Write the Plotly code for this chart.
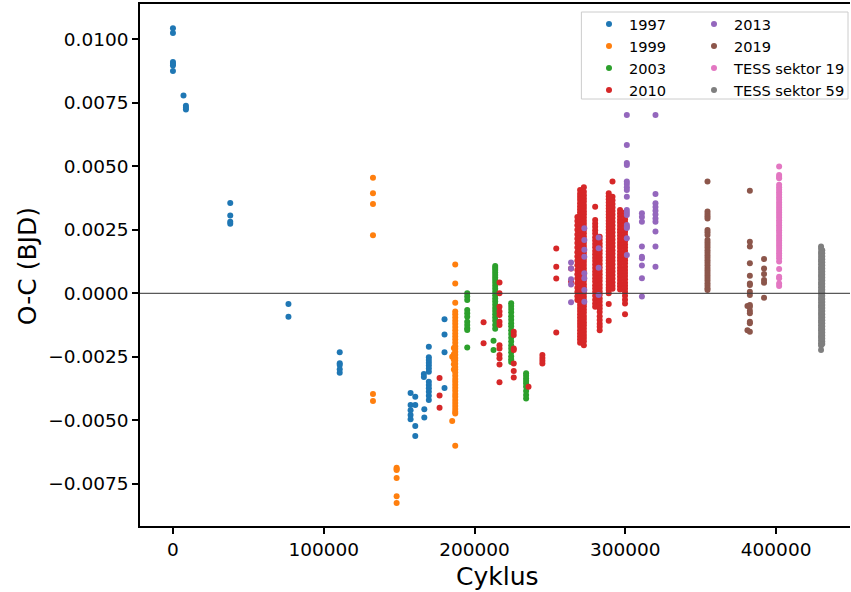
import plotly.graph_objects as go

# ---------------- data (cycle of each night, O-C values of that night) ----------------
cyc_1997 = [0, 7000, 8600, 38000, 76600, 110600, 157600, 160700, 166400, 166700, 169700, 180100]
oc_1997 = [
    [0.01044, 0.01025, 0.00911, 0.00904, 0.00897, 0.00875],
    [0.00779],
    [0.00738, 0.00731, 0.00724],
    [0.00356, 0.00306, 0.00282, 0.00274],
    [-0.00042, -0.00092],
    [-0.00232, -0.00275, -0.00282, -0.00299, -0.00313],
    [-0.00392, -0.00440, -0.00460, -0.00479, -0.00496],
    [-0.00407, -0.00440, -0.00522, -0.00562],
    [-0.00318, -0.00329],
    [-0.00456, -0.00489],
    [-0.00210, -0.00252, -0.00263, -0.00273, -0.00284, -0.00296, -0.00309, -0.00348,
     -0.00361, -0.00374, -0.00388, -0.00403, -0.00420],
    [-0.00102, -0.00162, -0.00232, -0.00373],
]

cyc_1999 = [132650, 148340, 185200, 186300, 187200]
oc_1999 = [
    [0.00455, 0.00394, 0.00352, 0.00229, -0.00396, -0.00424],
    [-0.00687, -0.00692, -0.00696, -0.00727, -0.00799, -0.00826],
    [-0.00250, -0.00503],
    [-0.00215, -0.00240, -0.00262, -0.00279, -0.00300],
    [0.00113, 0.00039, -0.00037, -0.00072, -0.00082, -0.00095, -0.00108, -0.00120, -0.00133,
     -0.00145, -0.00158, -0.00170, -0.00182, -0.00195, -0.00208, -0.00218, -0.00230, -0.00242,
     -0.00255, -0.00265, -0.00277, -0.00290, -0.00300, -0.00312, -0.00325, -0.00337, -0.00348,
     -0.00360, -0.00372, -0.00384, -0.00396, -0.00407, -0.00420, -0.00432, -0.00444, -0.00455,
     -0.00466, -0.00473, -0.00600],
]

cyc_2003 = [195150, 212600, 213700, 224300, 234200]
oc_2003 = [
    [0.00000, -0.00013, -0.00026, -0.00066, -0.00079, -0.00092, -0.00112, -0.00125, -0.00138,
     -0.00144, -0.00213],
    [-0.00187, -0.00223],
    [0.00108, 0.00100, 0.00092, 0.00082, 0.00072, 0.00062, 0.00052, 0.00042, 0.00030, 0.00018,
     0.00005, -0.00008, -0.00020, -0.00032, -0.00045, -0.00058, -0.00070, -0.00082, -0.00095,
     -0.00108, -0.00125, -0.00140],
    [-0.00039, -0.00050, -0.00062, -0.00075, -0.00090, -0.00104, -0.00118, -0.00130, -0.00145,
     -0.00160, -0.00175, -0.00190, -0.00205, -0.00218, -0.00232, -0.00248, -0.00260, -0.00270],
    [-0.00315, -0.00325, -0.00335, -0.00345, -0.00355, -0.00368, -0.00385, -0.00400, -0.00414],
]

cyc_2010 = [176800, 206000, 216550, 226000, 235800, 245000, 254200, 264000, 268200, 270000,
            272500, 280000, 283000, 289000, 291500, 296500, 299800]
oc_2010 = [
    [-0.00333, -0.00402, -0.00451],
    [-0.00114, -0.00197],
    [0.00043, 0.00000, -0.00053, -0.00072, -0.00085, -0.00112, -0.00125, -0.00204, -0.00217,
     -0.00243, -0.00256, -0.00280, -0.00350],
    [-0.00151, -0.00164, -0.00217, -0.00223, -0.00276, -0.00306, -0.00331],
    [-0.00368],
    [-0.00243, -0.00255, -0.00266, -0.00276],
    [0.00176, 0.00105, 0.00058, -0.00154],
    [0.00098, 0.00046],
    [0.00300, 0.00285, 0.00268, 0.00250, 0.00232, 0.00215, 0.00198, 0.00180, 0.00162, 0.00145,
     0.00128, 0.00110, 0.00092, 0.00075, 0.00058, 0.00040, 0.00022, 0.00005, -0.00012, -0.00026],
    [0.00407, 0.00392, 0.00380, 0.00368, 0.00355, 0.00342, 0.00330, 0.00318, 0.00305, 0.00292,
     0.00280, 0.00268, 0.00255, 0.00242, 0.00230, 0.00218, 0.00205, 0.00192, 0.00180, 0.00168,
     0.00155, 0.00142, 0.00130, 0.00118, 0.00105, 0.00092, 0.00080, 0.00068, 0.00055, 0.00042,
     0.00030, 0.00018, 0.00005, -0.00008, -0.00020, -0.00032, -0.00045, -0.00058, -0.00070,
     -0.00082, -0.00095, -0.00108, -0.00120, -0.00132, -0.00145, -0.00158, -0.00170, -0.00182,
     -0.00195],
    [0.00418, 0.00400, 0.00386, 0.00373, 0.00361, 0.00348, 0.00336, 0.00323, 0.00311, 0.00298,
     0.00286, 0.00274, 0.00261, 0.00249, 0.00236, 0.00224, 0.00211, 0.00199, 0.00186, 0.00174,
     0.00161, 0.00149, 0.00136, 0.00124, 0.00111, 0.00099, 0.00086, 0.00074, 0.00061, 0.00049,
     0.00036, 0.00024, 0.00011, -0.00001, -0.00014, -0.00026, -0.00039, -0.00051, -0.00064,
     -0.00076, -0.00089, -0.00101, -0.00114, -0.00126, -0.00139, -0.00151, -0.00164, -0.00176,
     -0.00189, -0.00204],
    [0.00341, 0.00289, 0.00275, 0.00262, 0.00248, 0.00235, 0.00221, 0.00208, 0.00194, 0.00181,
     0.00167, 0.00154, 0.00140, 0.00127, 0.00113, 0.00100, 0.00086, 0.00073, 0.00059, 0.00046,
     0.00032, 0.00019, 0.00005, -0.00010, -0.00025, -0.00040, -0.00053],
    [0.00223, 0.00210, 0.00196, 0.00183, 0.00169, 0.00156, 0.00142, 0.00129, 0.00115, 0.00102,
     0.00088, 0.00075, 0.00061, 0.00048, 0.00034, 0.00021, 0.00007, -0.00006, -0.00020, -0.00033,
     -0.00047, -0.00060, -0.00074, -0.00090, -0.00105, -0.00120, -0.00132, -0.00145],
    [0.00394, 0.00382, 0.00370, 0.00358, 0.00346, 0.00334, 0.00322, 0.00310, 0.00298, 0.00286,
     0.00274, 0.00262, 0.00250, 0.00238, 0.00226, 0.00214, 0.00202, 0.00190, 0.00178, 0.00166,
     0.00154, 0.00142, 0.00130, 0.00118, 0.00106, 0.00094, 0.00082, 0.00070, 0.00058, 0.00046,
     0.00034, 0.00022, 0.00013, 0.00000, -0.00042, -0.00108],
    [0.00440, 0.00380, 0.00366, 0.00352, 0.00338, 0.00324, 0.00310, 0.00296, 0.00282, 0.00268,
     0.00254, 0.00240, 0.00226, 0.00212, 0.00198, 0.00184, 0.00170, 0.00156, 0.00142, 0.00128,
     0.00114, 0.00100, 0.00086, 0.00072, 0.00058, 0.00044, 0.00030, 0.00018],
    [0.00328, 0.00315, 0.00302, 0.00290, 0.00278, 0.00265, 0.00252, 0.00240, 0.00228, 0.00215,
     0.00202, 0.00190, 0.00178, 0.00165, 0.00152, 0.00140, 0.00128, 0.00115, 0.00102, 0.00090,
     0.00078, 0.00065, 0.00052, 0.00040, 0.00028, 0.00015],
    [0.00318, 0.00305, 0.00292, 0.00280, 0.00268, 0.00255, 0.00242, 0.00230, 0.00218, 0.00205,
     0.00192, 0.00180, 0.00168, 0.00155, 0.00142, 0.00130, 0.00118, 0.00105, 0.00092, 0.00080,
     0.00068, 0.00055, 0.00042, 0.00030, 0.00018, 0.00005, -0.00010, -0.00025, -0.00040,
     -0.00082],
]

cyc_2013 = [264000, 272800, 282300, 301000, 311000, 320000]
oc_2013 = [
    [0.00121, 0.00098, 0.00055, 0.00035, -0.00035],
    [0.00256, 0.00210, 0.00171, 0.00144, 0.00079, 0.00059, 0.00013, -0.00033],
    [0.00220, 0.00177, 0.00101, -0.00007],
    [0.00702, 0.00584, 0.00513, 0.00505, 0.00440, 0.00430, 0.00418, 0.00407, 0.00380, 0.00328,
     0.00318, 0.00308, 0.00269, 0.00262, 0.00257, 0.00217, 0.00151],
    [0.00315, 0.00300, 0.00282, 0.00184, 0.00144, 0.00138, 0.00109, 0.00059, -0.00013],
    [0.00702, 0.00391, 0.00355, 0.00340, 0.00325, 0.00310, 0.00295, 0.00282, 0.00243, 0.00184,
     0.00105],
]

cyc_2019 = [354500, 381000, 382600, 392000]
oc_2019 = [
    [0.00440, 0.00322, 0.00312, 0.00303, 0.00295, 0.00249, 0.00240, 0.00230, 0.00210, 0.00200,
     0.00190, 0.00180, 0.00170, 0.00160, 0.00150, 0.00140, 0.00130, 0.00120, 0.00110, 0.00100,
     0.00090, 0.00080, 0.00070, 0.00060, 0.00050, 0.00040, 0.00030, 0.00020, 0.00013],
    [-0.00050, -0.00145],
    [0.00404, 0.00203, 0.00184, 0.00118, 0.00069, 0.00039, 0.00033, 0.00006, -0.00007, -0.00046,
     -0.00053, -0.00069, -0.00079, -0.00112, -0.00118, -0.00151],
    [0.00135, 0.00098, 0.00076, 0.00052, 0.00042, -0.00017],
]

cyc_tess19 = [402000]
oc_tess19 = [
    [0.00499, 0.00466, 0.00458, 0.00453, 0.00427, 0.00418, 0.00408, 0.00398, 0.00388, 0.00378,
     0.00368, 0.00358, 0.00348, 0.00338, 0.00328, 0.00318, 0.00308, 0.00298, 0.00288, 0.00278,
     0.00268, 0.00258, 0.00248, 0.00238, 0.00228, 0.00218, 0.00208, 0.00198, 0.00188, 0.00178,
     0.00168, 0.00158, 0.00148, 0.00138, 0.00125, 0.00096, 0.00065, 0.00059, 0.00039, 0.00029],
]

cyc_tess59 = [429800, 430600]
oc_tess59 = [
    [0.00184, 0.00175, 0.00163, 0.00155, 0.00144, 0.00133, 0.00125, 0.00114, 0.00103, 0.00095,
     0.00084, 0.00073, 0.00065, 0.00054, 0.00043, 0.00035, 0.00024, 0.00013, 0.00005, -0.00006,
     -0.00017, -0.00025, -0.00036, -0.00047, -0.00055, -0.00066, -0.00077, -0.00085, -0.00096,
     -0.00107, -0.00115, -0.00126, -0.00137, -0.00145, -0.00156, -0.00167, -0.00175, -0.00186,
     -0.00197, -0.00205, -0.00223],
    [0.00170, 0.00158, 0.00146, 0.00134, 0.00122, 0.00110, 0.00098, 0.00086, 0.00074, 0.00062,
     0.00050, 0.00038, 0.00026, 0.00014, 0.00002, -0.00010, -0.00022, -0.00034, -0.00046,
     -0.00058, -0.00070, -0.00082, -0.00094, -0.00106, -0.00118, -0.00130, -0.00142, -0.00154,
     -0.00166, -0.00178, -0.00190, -0.00200],
]

series_names = ["1997", "1999", "2003", "2010", "2013", "2019", "TESS sektor 19", "TESS sektor 59"]
series_colors = ["#1f77b4", "#ff7f0e", "#2ca02c", "#d62728", "#9467bd", "#8c564b", "#e377c2", "#7f7f7f"]

x_tickvals = [0, 100000, 200000, 300000, 400000]
x_ticktext = ["0", "100000", "200000", "300000", "400000"]
y_tickvals = [-0.0075, -0.005, -0.0025, 0.0, 0.0025, 0.005, 0.0075, 0.01]
y_ticktext = ["\u22120.0075", "\u22120.0050", "\u22120.0025", "0.0000", "0.0025", "0.0050", "0.0075", "0.0100"]

# ---------------- figure ----------------
all_cyc = [cyc_1997, cyc_1999, cyc_2003, cyc_2010, cyc_2013, cyc_2019, cyc_tess19, cyc_tess59]
all_oc = [oc_1997, oc_1999, oc_2003, oc_2010, oc_2013, oc_2019, oc_tess19, oc_tess59]

FONT = "DejaVu Sans"
W, H = 851, 592
L, R, T, B = 140, 0, 4, 66
pw, ph = W - L - R, H - T - B

def px_x(p):
    return (p - L) / pw

def px_y(p):
    return (H - B - p) / ph

fig = go.Figure()
for i, (name, col, cycs, ocs) in enumerate(zip(series_names, series_colors, all_cyc, all_oc)):
    xs, ys = [], []
    for c, vals in zip(cycs, ocs):
        xs.extend([c] * len(vals))
        ys.extend(vals)
    fig.add_trace(go.Scatter(
        x=xs, y=ys, mode="markers", name=name,
        marker=dict(color=col, size=6, line=dict(width=0)),
        legend="legend" if i < 4 else "legend2",
        legendgroup=name,
    ))

# legend frame (matplotlib style)
fig.add_shape(type="rect", xref="paper", yref="paper",
              x0=px_x(582), x1=px_x(849), y0=px_y(99), y1=px_y(12),
              line=dict(color="#cccccc", width=1), fillcolor="rgba(255,255,255,0.8)",
              layer="above")
# zero line
fig.add_shape(type="line", xref="paper", yref="y", x0=0, x1=1, y0=0, y1=0,
              line=dict(color="rgba(60,60,60,0.85)", width=1.2), layer="above")

legend_common = dict(
    font=dict(family=FONT, size=14.6, color="black"),
    bgcolor="rgba(0,0,0,0)", borderwidth=0,
    xanchor="left", yanchor="top", tracegroupgap=0,
    itemsizing="trace",
)

fig.update_layout(
    width=W, height=H,
    margin=dict(l=L, r=R, t=T, b=B),
    paper_bgcolor="white", plot_bgcolor="white",
    font=dict(family=FONT, color="black"),
    showlegend=True,
    legend=dict(x=px_x(589), y=px_y(8), **legend_common),
    legend2=dict(x=px_x(695), y=px_y(8), **legend_common),
    xaxis=dict(
        range=[-21850, 449000], tickmode="array", tickvals=x_tickvals, ticktext=x_ticktext,
        showgrid=False, zeroline=False, showline=True, linecolor="black", linewidth=1.5,
        mirror=True, ticks="outside", ticklen=6, tickwidth=1.5, tickcolor="black",
        tickfont=dict(family=FONT, size=18.5, color="black"),
    ),
    yaxis=dict(
        range=[-0.009161, 0.011390], tickmode="array", tickvals=y_tickvals, ticktext=y_ticktext,
        showgrid=False, zeroline=False, showline=True, linecolor="black", linewidth=1.5,
        mirror=False, ticks="outside", ticklen=6, tickwidth=1.5, tickcolor="black",
        tickfont=dict(family=FONT, size=18.5, color="black"),
    ),
    annotations=[
        dict(text="Cyklus", xref="paper", yref="paper", x=px_x(498), y=px_y(576),
             xanchor="center", yanchor="middle", showarrow=False,
             font=dict(family=FONT, size=25, color="black")),
        dict(text="O-C (BJD)", xref="paper", yref="paper", x=px_x(27), y=px_y(266),
             xanchor="center", yanchor="middle", showarrow=False, textangle=-90,
             font=dict(family=FONT, size=25, color="black")),
    ],
)

fig.write_html("out.html")
